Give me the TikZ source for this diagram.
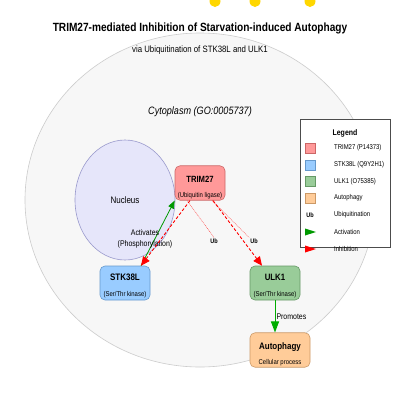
\documentclass[tikz,border=0pt]{standalone}
\usepackage{fontspec}
\setmainfont{Liberation Sans}
\usepackage{graphicx}
\usepackage{tikz}
\usetikzlibrary{arrows.meta, positioning, shapes.geometric}
\definecolor{cytofill}{HTML}{F7F7F7}
\definecolor{cytodraw}{HTML}{CCCCCC}
\definecolor{nucfill}{HTML}{E6E6FA}
\definecolor{nucdraw}{HTML}{9999CC}
\definecolor{trimfill}{HTML}{FF9999}
\definecolor{trimdraw}{HTML}{CC6666}
\definecolor{stkfill}{HTML}{99CCFF}
\definecolor{stkdraw}{HTML}{6699CC}
\definecolor{ulkfill}{HTML}{99CC99}
\definecolor{ulkdraw}{HTML}{669966}
\definecolor{autofill}{HTML}{FFCC99}
\definecolor{autodraw}{HTML}{CC9966}
\definecolor{actgreen}{HTML}{009900}
\definecolor{dotyellow}{HTML}{FFD700}
\newcommand{\fsz}[1]{\fontsize{#1}{#1}\selectfont}
\newcommand{\cnd}[1]{\scalebox{0.85}[1]{#1}}
\tikzset{
  cell_region/.style={ellipse, draw=cytodraw, fill=cytofill, line width=0.6pt, minimum width=350pt, minimum height=334pt},
  nucleus_region/.style={ellipse, draw=nucdraw, fill=nucfill, line width=0.6pt, minimum width=100pt, minimum height=120pt, font=\fsz{9.4}},
  protein_box/.style={rectangle, rounded corners=5pt, minimum width=50pt, minimum height=34pt, inner sep=1pt, align=center, line width=0.6pt},
  activation/.style={draw=actgreen, line width=0.8pt, -{Triangle[length=8pt, width=6pt]}},
  promotion/.style={draw=actgreen!80!green, line width=1pt, -{Triangle[length=11pt, width=8pt]}},
  inhibition/.style={draw=red, line width=0.9pt, dash pattern=on 3pt off 2pt, -{Triangle[length=9pt, width=8pt]}},
  ub_link/.style={draw=red!75, line width=0.4pt, dash pattern=on 1pt off 0.8pt},
  ub_label/.style={font=\fsz{6.5}\bfseries, inner sep=1pt},
  legend_swatch/.style={rectangle, minimum size=10pt, inner sep=0pt, line width=0.4pt},
  legend_text/.style={anchor=west, font=\fsz{7}, inner sep=0pt}
}
\begin{document}
\begin{tikzpicture}[x=1pt, y=-1pt]
  \useasboundingbox (0,0) rectangle (400,400);
  \fill[white] (0,0) rectangle (400,400);

  % dots cut off at the top edge
  \foreach \dx in {215, 255, 310} {
    \fill[dotyellow] (\dx,1) ellipse (5.5 and 6);
  }

  % Titles
  \node[font=\fsz{11.9}\bfseries] (title) at (200,28) {\cnd{TRIM27-mediated Inhibition of Starvation-induced Autophagy}};

  % Compartments
  \node[cell_region] (cytoplasm) at (200,200) {};
  \node[font=\fsz{9.2}] (subtitle) at (200,50) {\cnd{via Ubiquitination of STK38L and ULK1}};
  \node[font=\fsz{10.7}\itshape] (cyto_label) at (200,112) {\cnd{Cytoplasm (GO:0005737)}};
  \node[nucleus_region] (nucleus) at (125,200) {\cnd{Nucleus}};

  % Proteins
  \node[protein_box, fill=trimfill, draw=trimdraw] (trim) at (200,183)
    {\rule{0pt}{16pt}{\fsz{9}\bfseries\cnd{TRIM27}}\\[3pt]{\fsz{7}\cnd{(Ubiquitin ligase)}}};
  \node[protein_box, fill=stkfill, draw=stkdraw] (stk) at (125,283)
    {\rule{0pt}{13pt}{\fsz{9.4}\bfseries\cnd{STK38L}}\\[4pt]{\fsz{7}\cnd{(Ser/Thr kinase)}}};
  \node[protein_box, fill=ulkfill, draw=ulkdraw] (ulk) at (275,283)
    {\rule{0pt}{13pt}{\fsz{9.2}\bfseries\cnd{ULK1}}\\[4pt]{\fsz{7}\cnd{(Ser/Thr kinase)}}};
  \node[protein_box, fill=autofill, draw=autodraw, minimum width=60pt] (autophagy) at (280,350)
    {\rule{0pt}{16pt}{\fsz{9.4}\bfseries\cnd{Autophagy}}\\[3pt]{\fsz{7}\cnd{Cellular process}}};

  % Ubiquitination marks
  \node[ub_label] (ub_stk) at (214,241) {\cnd{Ub}};
  \node[ub_label] (ub_ulk) at (254,241) {\cnd{Ub}};
  \draw[ub_link] ([xshift=-13pt]trim.south) -- (ub_stk.north);
  \draw[ub_link] ([xshift=12pt]trim.south) -- (ub_ulk.north west);

  % Interactions
  \draw[activation] ([xshift=16pt]stk.north) -- (trim.south west);
  \node[font=\fsz{8.2}, align=center, inner sep=0pt] (act_label) at (145,239) {\cnd{Activates}\\[3.5pt]\cnd{(Phosphorylation)}};
  \draw[inhibition] ([xshift=-10pt]trim.south) -- ([xshift=16pt]stk.north);
  \draw[inhibition] ([xshift=13pt]trim.south) -- ([xshift=-13pt]ulk.north);
  \draw[promotion] (ulk.south) -- (ulk.south |- autophagy.north)
    node[midway, right, font=\fsz{8.2}, inner sep=1pt] (prom_label) {\cnd{Promotes}};

  % Legend
  \node[draw=black!70, fill=white, line width=0.6pt, minimum width=90pt, minimum height=128pt, inner sep=0pt] (legend_box) at (345,183) {};
  \node[font=\fsz{8.2}\bfseries] (legend_title) at (345,133) {\cnd{Legend}};
  \foreach \fillc/\drawc/\txt [count=\i] in {trimfill/trimdraw/TRIM27 (P14373), stkfill/stkdraw/STK38L (Q9Y2H1), ulkfill/ulkdraw/ULK1 (O75385), autofill/autodraw/Autophagy} {
    \node[legend_swatch, fill=\fillc, draw=\drawc] (swatch\i) at (310,{148+(\i-1)*16.7}) {};
    \node[legend_text] (entry\i) at (334,{148+(\i-1)*16.7}) {\cnd{\txt}};
  }
  \node[ub_label] (swatch5) at (310,215) {\cnd{Ub}};
  \node[legend_text] (entry5) at (334,215) {\cnd{Ubiquitination}};
  \fill[actgreen] (305,228.5) -- (316,232) -- (305,235.5) -- cycle;
  \node[legend_text] (entry6) at (334,232) {\cnd{Activation}};
  \fill[red] (305,245.5) -- (316,249) -- (305,252.5) -- cycle;
  \node[legend_text] (entry7) at (334,249) {\cnd{Inhibition}};
\end{tikzpicture}
\end{document}
